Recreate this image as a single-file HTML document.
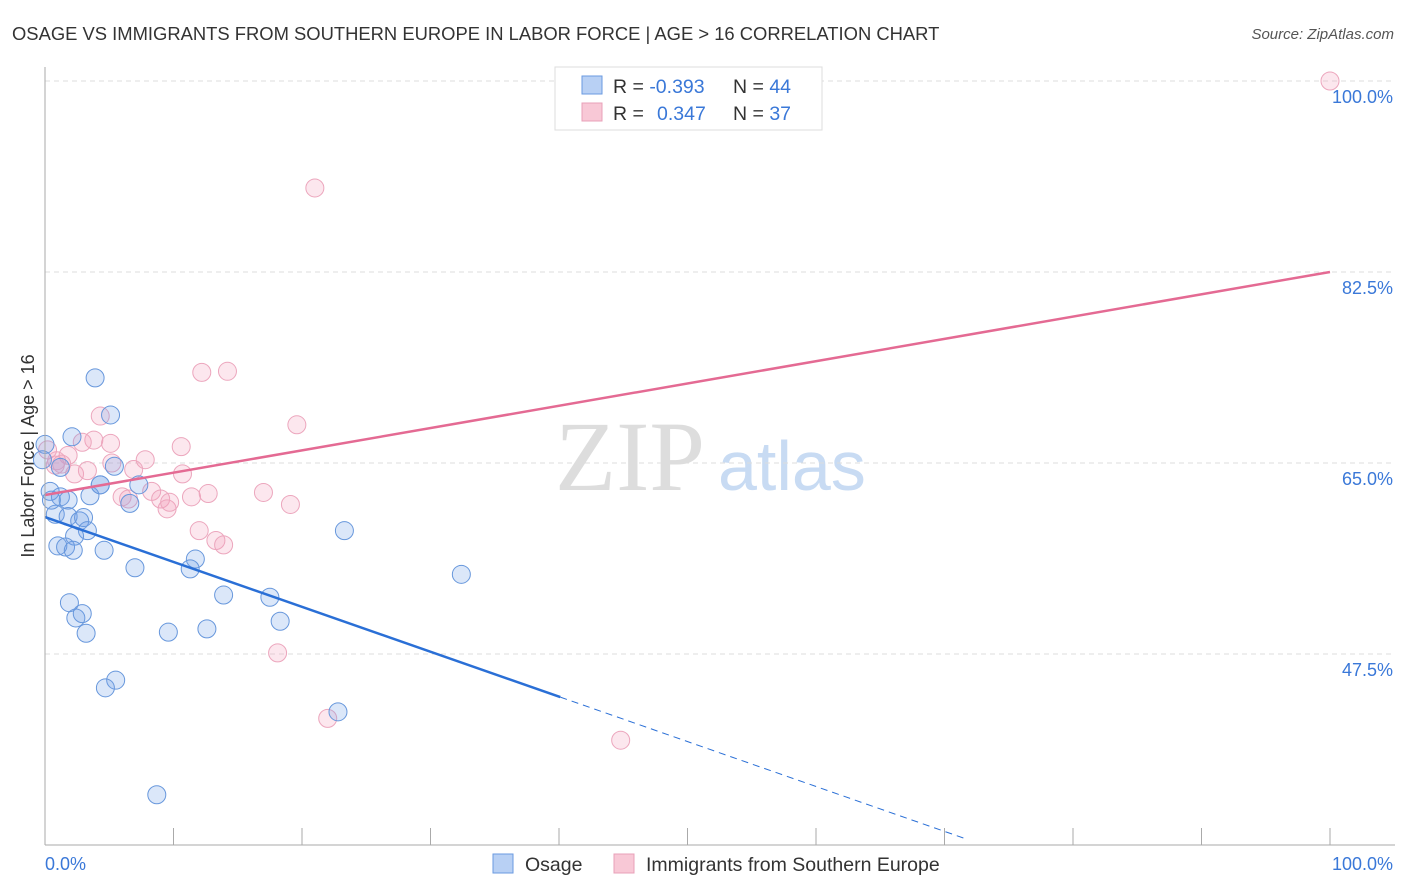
<!DOCTYPE html>
<html><head><meta charset="utf-8"><style>
body{margin:0;background:#fff;font-family:"Liberation Sans",sans-serif;}
svg{display:block}
</style></head><body>
<svg id="c" width="1406" height="892">
<text x="12" y="40" font-size="18.4" fill="#333">OSAGE VS IMMIGRANTS FROM SOUTHERN EUROPE IN LABOR FORCE | AGE &gt; 16 CORRELATION CHART</text>
<text x="1394" y="39" font-size="15" fill="#555" font-style="italic" text-anchor="end">Source: ZipAtlas.com</text>
<text x="34" y="456" font-size="18" fill="#333" text-anchor="middle" transform="rotate(-90 34 456)">In Labor Force | Age &gt; 16</text>
<text x="555" y="490" font-size="100" fill="#ddd" font-family="Liberation Serif,serif">ZIP</text>
<text x="718" y="490" font-size="70" fill="#c8dbf3">atlas</text>
<g id="grid"></g><g id="pts"></g><g id="lines"></g>
<line x1="45" y1="67" x2="45" y2="845" stroke="#aaa"/>
<line x1="45" y1="845" x2="1395" y2="845" stroke="#aaa"/>
<text x="45" y="870" font-size="18" fill="#3a78d8">0.0%</text>
<text x="1393" y="870" font-size="18" fill="#3a78d8" text-anchor="end">100.0%</text>
<rect x="555" y="67" width="267" height="63" fill="#fff" stroke="#ddd"/>
<rect x="582" y="76" width="20" height="18" fill="#b8d0f4" stroke="#6a9ae0"/>
<rect x="582" y="103" width="20" height="18" fill="#f8c8d6" stroke="#e8a0b8"/>
<text x="613" y="93" font-size="19.5" fill="#333">R = <tspan fill="#3a78d8">-0.393</tspan><tspan x="733">N = </tspan><tspan fill="#3a78d8">44</tspan></text>
<text x="613" y="120" font-size="19.5" fill="#333">R = <tspan x="657" fill="#3a78d8">0.347</tspan><tspan x="733">N = </tspan><tspan fill="#3a78d8">37</tspan></text>
<rect x="493" y="854" width="20" height="19" fill="#b8d0f4" stroke="#6a9ae0"/>
<text x="525" y="871" font-size="19.5" fill="#333">Osage</text>
<rect x="614" y="854" width="20" height="19" fill="#f8c8d6" stroke="#e8a0b8"/>
<text x="646" y="871" font-size="19.5" fill="#333">Immigrants from Southern Europe</text>
</svg>
<script>
const yTicks=[100,82.5,65,47.5];
const yTickLabels=["100.0%","82.5%","65.0%","47.5%"];
const xTicks=[10,20,30,40,50,60,70,80,90,100];
const osageX=[3.9,5.1,2.1,0,1.2,5.4,0.4,1.2,1.8,3.5,4.3,6.6,7.3,0.8,1.8,2.7,3.0,3.3,2.3,1.0,1.6,2.2,4.6,7.0,11.7,11.3,13.9,17.5,18.3,12.6,9.6,3.2,2.4,2.9,1.9,5.5,4.7,8.7,22.8,23.3,32.4,-0.2,0.5,4.3];
const osageY=[72.8,69.4,67.4,66.7,64.6,64.7,62.4,61.9,61.6,62.0,63.0,61.3,63.0,60.3,60.1,59.7,60.0,58.8,58.3,57.4,57.3,57.0,57.0,55.4,56.2,55.3,52.9,52.7,50.5,49.8,49.5,49.4,50.8,51.2,52.2,45.1,44.4,34.6,42.2,58.8,54.8,65.3,61.6,63.0];
const immX=[100,21,12.2,14.2,19.6,4.3,3.8,5.1,2.9,10.6,7.8,5.2,1.8,0.9,1.3,2.3,3.3,6.9,10.7,17.0,19.1,6.0,6.5,8.3,9.0,9.5,9.7,11.4,12.7,12.0,13.3,13.9,18.1,22.0,44.8,0.2,0.8];
const immY=[100,90.2,73.3,73.4,68.5,69.3,67.1,66.8,66.9,66.5,65.3,65.0,65.7,65.2,64.9,64.0,64.3,64.4,64.0,62.3,61.2,61.9,61.7,62.4,61.7,60.8,61.4,61.9,62.2,58.8,57.9,57.5,47.6,41.6,39.6,66.2,64.8];
const osageTrend=[60.05,18.9]; // y at x=0, y at x=100
const immTrend=[62.07,82.5];
const X=v=>45+v*12.85, Y=v=>81+(100-v)*10.914;
const NS="http://www.w3.org/2000/svg";
function mk(t,a,p){const e=document.createElementNS(NS,t);for(const k in a)e.setAttribute(k,a[k]);p.appendChild(e);return e;}
const grid=document.getElementById('grid'),pts=document.getElementById('pts'),lines=document.getElementById('lines'),svg=document.getElementById('c');
yTicks.forEach((v,i)=>{
 const l=mk('line',{x1:45,x2:1395,y1:Y(v),y2:Y(v),stroke:'#ddd','stroke-dasharray':'5,4'},grid);
 
 
 const t=mk('text',{x:1393,y:Y(v)+22,'font-size':18,fill:'#3a78d8','text-anchor':'end'},svg);
 t.textContent=yTickLabels[i];
 
 
});
xTicks.forEach(v=>{
 const l=mk('line',{x1:X(v),x2:X(v),y1:828,y2:845,stroke:'#aaa'},grid);
 
 
});
immX.forEach((x,i)=>{
 const c=mk('circle',{cx:X(x),cy:Y(immY[i]),r:9,fill:'rgba(244,160,188,0.25)',stroke:'#eca6bd','stroke-width':1},pts);
 
 
});
osageX.forEach((x,i)=>{
 const c=mk('circle',{cx:X(x),cy:Y(osageY[i]),r:9,fill:'rgba(110,160,230,0.25)',stroke:'#6797dc','stroke-width':1},pts);
 
 
});
const oy=x=>osageTrend[0]+(osageTrend[1]-osageTrend[0])*x/100;
const l1=mk('line',{x1:X(0),y1:Y(oy(0)),x2:X(40.1),y2:Y(oy(40.1)),stroke:'#2a6fd6','stroke-width':2.5},lines);


const l2=mk('line',{x1:X(40.1),y1:Y(oy(40.1)),x2:X(71.6),y2:Y(oy(71.6)),stroke:'#2a6fd6','stroke-width':1,'stroke-dasharray':'7,5'},lines);


const l3=mk('line',{x1:X(0),y1:Y(immTrend[0]),x2:X(100),y2:Y(immTrend[1]),stroke:'#e46a93','stroke-width':2.5},lines);


</script>
</body></html>
